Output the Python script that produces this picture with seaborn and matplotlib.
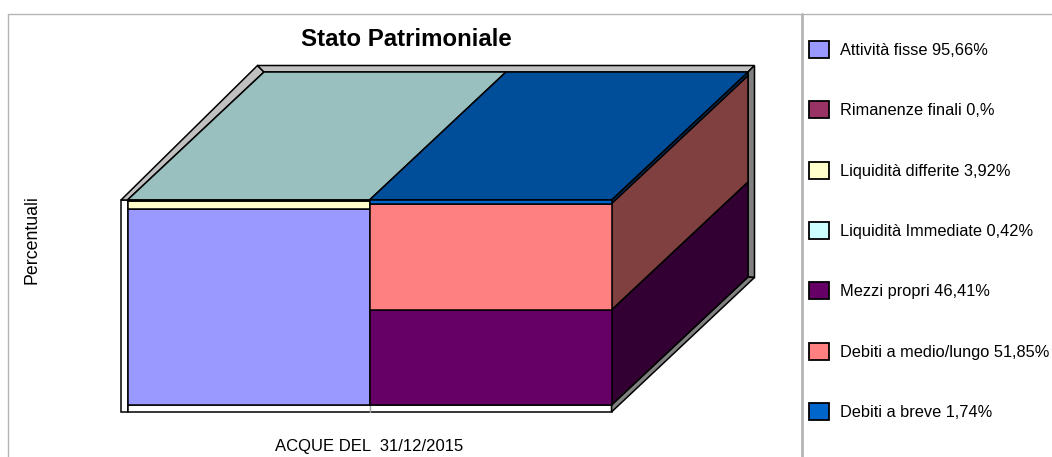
"""Stato Patrimoniale, stacked bars in a fake 3D box"""

import matplotlib
matplotlib.use("Agg")
import matplotlib.pyplot as plt
from matplotlib.lines import Line2D
from matplotlib.patches import Patch, Polygon
import seaborn as sns

#####################################################################
# data
columns = ["Impieghi", "Fonti"]
assets = ["Attività fisse", "Rimanenze finali", "Liquidità differite", "Liquidità Immediate"]
assets_values = [95.66, 0.0, 3.92, 0.42]
assets_colors = ["#9999FF", "#993366", "#FFFFCC", "#CCFFFF"]
sources = ["Mezzi propri", "Debiti a medio/lungo", "Debiti a breve"]
sources_values = [46.41, 51.85, 1.74]
sources_colors = ["#660066", "#FF8080", "#0066CC"]
legend_labels = ["Attività fisse 95,66%", "Rimanenze finali 0,%", "Liquidità differite 3,92%",
                 "Liquidità Immediate 0,42%", "Mezzi propri 46,41%",
                 "Debiti a medio/lungo 51,85%", "Debiti a breve 1,74%"]

#####################################################################
# layout, in pixels of the 1052x457 picture
W, H = 1052, 457
ax_left, ax_right, ax_top, ax_bottom = 100, 780, 50, 425
x_zero, x_unit = 248.5, 242         # centre of first column, px per column
y_zero, y_unit = 405, 2.05          # baseline, px per percent
depth_x = 136.5 / x_unit
depth_y = 128 / y_unit
wall_x = 6.5 / x_unit
wall_y = 7 / y_unit
wall_up = 6.5 / y_unit

sns.set_style("white")
plt.rcParams["font.family"] = ["Liberation Sans", "DejaVu Sans"]
plt.rcParams["text.color"] = "black"

fig = plt.figure(figsize=(W / 100, H / 100), dpi=100)
ax = fig.add_axes([ax_left / W, 1 - ax_bottom / H, (ax_right - ax_left) / W, (ax_bottom - ax_top) / H])


def shade(color, factor):
    r, g, b = matplotlib.colors.to_rgb(color)
    return (r * factor, g * factor, b * factor)


def poly(points, color, lw=1.1, z=1):
    ax.add_patch(Polygon(points, closed=True, facecolor=color, edgecolor="black", linewidth=lw, zorder=z))


#####################################################################
# box walls
x0, x1 = -0.5, 1.5
poly([(x0 - wall_x, 100), (x0, 100), (x0, -wall_y), (x0 - wall_x, -wall_y)], "white")
poly([(x0, 0), (x1, 0), (x1, -wall_y), (x0, -wall_y)], "white")
poly([(x0 - wall_x, 100), (x0 - wall_x + depth_x, 100 + depth_y + wall_up), (x0 + depth_x, 100 + depth_y), (x0, 100)], "#C0C0C0")
poly([(x0 + depth_x, 100 + depth_y), (x0 - wall_x + depth_x, 100 + depth_y + wall_up), (x1 + depth_x + wall_x, 100 + depth_y + wall_up), (x1 + depth_x, 100 + depth_y)], "#C0C0C0")
poly([(x1 + depth_x, 100 + depth_y), (x1 + depth_x + wall_x, 100 + depth_y + wall_up), (x1 + depth_x + wall_x, depth_y - wall_y + wall_up), (x1 + depth_x, depth_y)], "#808080")
poly([(x1, 0), (x1 + depth_x, depth_y), (x1 + depth_x + wall_x, depth_y - wall_y + wall_up), (x1, -wall_y)], "#808080")
ax.plot([0.5, 0.5], [0, -wall_y], color="#A0A0A0", lw=1, zorder=2)

#####################################################################
# side and top faces
bottom = 0
for value, color in zip(sources_values, sources_colors):
    poly([(x1, bottom), (x1 + depth_x, bottom + depth_y),
          (x1 + depth_x, bottom + value + depth_y), (x1, bottom + value)], shade(color, 0.5), z=3)
    bottom += value

poly([(x0, 100), (0.5, 100), (0.5 + depth_x, 100 + depth_y), (x0 + depth_x, 100 + depth_y)], shade(assets_colors[-1], 0.75), z=3)
poly([(0.5, 100), (x1, 100), (x1 + depth_x, 100 + depth_y), (0.5 + depth_x, 100 + depth_y)], shade(sources_colors[-1], 0.75), z=3)

#####################################################################
# front faces
bar_kw = dict(order=columns, width=1, saturation=1, edgecolor="black", linewidth=1.1, ax=ax, zorder=4)
bottom = 0
for value, color in zip(assets_values, assets_colors):
    sns.barplot(x=[columns[0]], y=[value], bottom=bottom, color=color, **bar_kw)
    bottom += value
bottom = 0
for value, color in zip(sources_values, sources_colors):
    sns.barplot(x=[columns[1]], y=[value], bottom=bottom, color=color, **bar_kw)
    bottom += value

ax.set_xlim((ax_left - x_zero) / x_unit, (ax_right - x_zero) / x_unit)
ax.set_ylim((y_zero - ax_bottom) / y_unit, (y_zero - ax_top) / y_unit)
ax.axis("off")

#####################################################################
# texts
fig.text(406 / W, 1 - 40 / H, "Stato Patrimoniale", fontsize=17.3, fontweight="bold", ha="center", va="center")
fig.text(32 / W, 1 - 240 / H, "Percentuali", fontsize=12.8, rotation=90, ha="center", va="center")
fig.text(369.5 / W, 1 - 446 / H, "ACQUE DEL  31/12/2015", fontsize=12, ha="center", va="center")

# frame lines
grey = "#B4B4B4"
fig.add_artist(Line2D([8 / W, 1], [1 - 14 / H, 1 - 14 / H], color=grey, lw=1))
fig.add_artist(Line2D([8 / W, 8 / W], [1 - 14 / H, 0], color=grey, lw=1))
fig.add_artist(Line2D([802 / W, 802 / W], [1 - 14 / H, 0], color=grey, lw=2))

#####################################################################
# legend
handles = [Patch(facecolor=c, edgecolor="black", linewidth=1.3) for c in assets_colors + sources_colors]
fig.legend(handles, legend_labels, loc="upper left", bbox_to_anchor=(809 / W, 1 - 41 / H),
           frameon=False, fontsize=11.8, handlelength=1.22, handleheight=1.2,
           handletextpad=0.67, labelspacing=2.65, borderpad=0, borderaxespad=0)

plt.savefig("out.png", dpi=100)
